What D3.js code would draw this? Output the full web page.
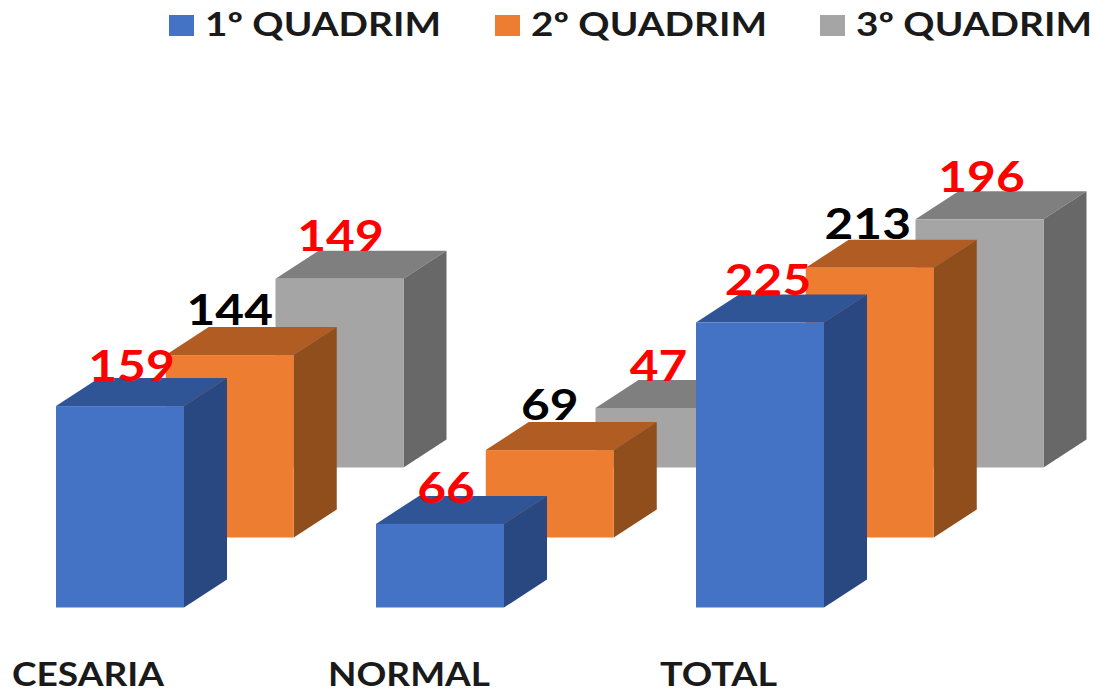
<!DOCTYPE html>
<html><head><meta charset="utf-8">
<script src="https://cdn.jsdelivr.net/npm/d3@7"></script>
<style>html,body{margin:0;padding:0;background:#fff}svg{display:block}text{font-family:Lato,"Open Sans",sans-serif;font-weight:700}</style>
</head><body><svg id="c" width="1095" height="689"></svg>
<script>
const categories = ["CESARIA","NORMAL","TOTAL"];
const seriesNames = ["1º QUADRIM","2º QUADRIM","3º QUADRIM"];
const q1 = [159,66,225];
const q2 = [144,69,213];
const q3 = [149,47,196];
const labelColors = ["#ff0000","#000000","#ff0000"];
const faces = [["#4472c4","#2f5597","#294780"],["#ed7d31","#b05c22","#8f4e1c"],["#a5a5a5","#7f7f7f","#686868"]];

const svg = d3.select("#c");
const xCat = d3.scalePoint().domain(categories).range([56,696]);
const serIdx = d3.scalePoint().domain([0,1,2]).range([0,219.5]);
const baseY = d3.scalePoint().domain([0,1,2]).range([607.5,467.5]);
const h = d3.scaleLinear().domain([0,225]).range([0,285]);
const barW = 128, dx = 43, dy = 28;
const all = [q1,q2,q3];
const labelDx = [[75.5,70,72],[64,64,62],[65,63,66]];
const labelDy = [[25,21,28],[30,30,29],[28,27,27]];

[2,1,0].forEach(s=>{
  const g = svg.append("g");
  all[s].forEach((v,i)=>{
    const x = xCat(categories[i]) + serIdx(s), b = baseY(s), t = b - h(v);
    const line = d3.line();
    g.append("path").attr("d",line([[x,t],[x+dx,t-dy],[x+barW+dx,t-dy],[x+barW,t]])+"Z").attr("fill",faces[s][1]);
    g.append("path").attr("d",line([[x+barW,t],[x+barW+dx,t-dy],[x+barW+dx,b-dy],[x+barW,b]])+"Z").attr("fill",faces[s][2]);
    g.append("rect").attr("x",x).attr("y",t).attr("width",barW).attr("height",h(v)).attr("fill",faces[s][0]);
  });
});
[2,1,0].forEach(s=>{
  all[s].forEach((v,i)=>{
    const x = xCat(categories[i]) + serIdx(s), t = baseY(s) - h(v);
    svg.append("text").attr("x",x+labelDx[s][i]).attr("y",t-labelDy[s][i]).attr("text-anchor","middle")
      .attr("font-size",42).attr("fill",labelColors[s])
      .attr("textLength",String(v).length*28.8).attr("lengthAdjust","spacingAndGlyphs").text(v);
  });
});
const catX = [12,328,660], catLen = [152,162,117];
categories.forEach((c,i)=>svg.append("text").attr("x",catX[i]).attr("y",685.5).attr("font-size",32).attr("fill","#1a1a1a")
  .attr("textLength",catLen[i]).attr("lengthAdjust","spacingAndGlyphs").text(c));
const legX = [169,495,820];
seriesNames.forEach((n,i)=>{
  svg.append("rect").attr("x",legX[i]).attr("y",15).attr("width",25).attr("height",21).attr("fill",faces[i][0]);
  svg.append("text").attr("x",legX[i]+36).attr("y",36).attr("font-size",33).attr("fill","#1a1a1a")
    .attr("textLength",236).attr("lengthAdjust","spacingAndGlyphs").text(n);
});
</script></body></html>
